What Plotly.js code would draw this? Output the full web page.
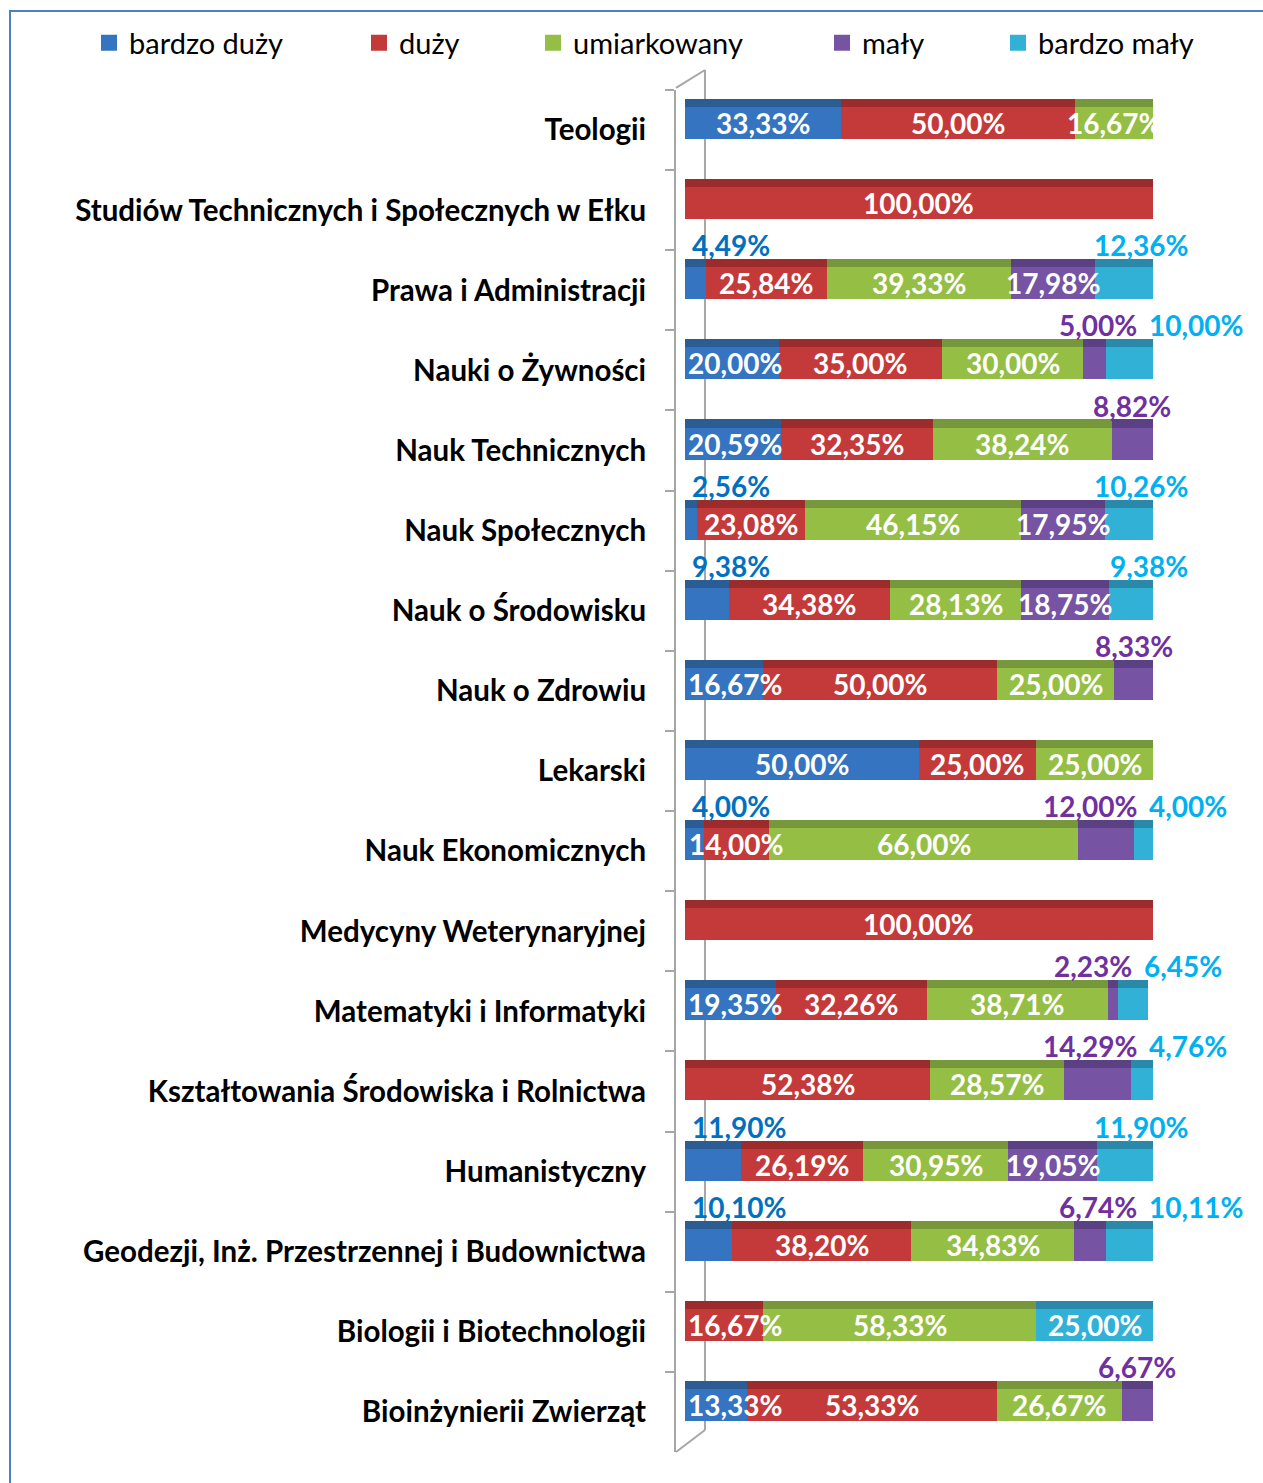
<!DOCTYPE html>
<html>
<head>
<meta charset="utf-8">
<script src="https://cdn.plot.ly/plotly-3.0.1.min.js"></script>
<style>
  html, body { margin: 0; padding: 0; background: #fff; }
  #chart { width: 1263px; height: 1483px; }
  #frame { position: absolute; left: 9px; top: 10px; width: 1400px; height: 1600px;
           border-top: 2px solid #4F81BD; border-left: 2px solid #4F81BD; pointer-events: none; }
</style>
</head>
<body>
<div id="chart"></div>
<div id="frame"></div>
<script>
// ---- data ----
const categories = [
  "Teologii",
  "Studiów Technicznych i Społecznych w Ełku",
  "Prawa i Administracji",
  "Nauki o Żywności",
  "Nauk Technicznych",
  "Nauk Społecznych",
  "Nauk o Środowisku",
  "Nauk o Zdrowiu",
  "Lekarski",
  "Nauk Ekonomicznych",
  "Medycyny Weterynaryjnej",
  "Matematyki i Informatyki",
  "Kształtowania Środowiska i Rolnictwa",
  "Humanistyczny",
  "Geodezji, Inż. Przestrzennej i Budownictwa",
  "Biologii i Biotechnologii",
  "Bioinżynierii Zwierząt"
];
const seriesNames = ["bardzo duży", "duży", "umiarkowany", "mały", "bardzo mały"];
const bardzoDuzy  = [33.33, 0, 4.49, 20.00, 20.59, 2.56, 9.38, 16.67, 50.00, 4.00, 0, 19.35, 0, 11.90, 10.10, 0, 13.33];
const duzy        = [50.00, 100.00, 25.84, 35.00, 32.35, 23.08, 34.38, 50.00, 25.00, 14.00, 100.00, 32.26, 52.38, 26.19, 38.20, 16.67, 53.33];
const umiarkowany = [16.67, 0, 39.33, 30.00, 38.24, 46.15, 28.13, 25.00, 25.00, 66.00, 0, 38.71, 28.57, 30.95, 34.83, 58.33, 26.67];
const maly        = [0, 0, 17.98, 5.00, 8.82, 17.95, 18.75, 8.33, 0, 12.00, 0, 2.23, 14.29, 19.05, 6.74, 0, 6.67];
const bardzoMaly  = [0, 0, 12.36, 10.00, 0, 10.26, 9.38, 0, 0, 4.00, 0, 6.45, 4.76, 11.90, 10.11, 25.00, 0];
const seriesValues = [bardzoDuzy, duzy, umiarkowany, maly, bardzoMaly];

// ---- styles ----
const frontColors = ["#3574C0", "#C43A3A", "#95BE45", "#7653A3", "#32B1D6"];
const topColors   = ["#2C5C94", "#9C2C2C", "#77983A", "#5B4083", "#2A89A8"];
const labelColors = ["#0070C0", "#C00000", "#76923C", "#7030A0", "#00B0F0"];
const insideLimit = [12.5, 12.5, 12.5, 15, 20];
const FONT = "Lato, 'Open Sans', sans-serif";
const LABEL_SIZE = 28;
const fmt = v => v.toFixed(2).replace(".", ",") + "%";
const isOutside = (s, v) => v > 0 && v < insideLimit[s];
const r2 = v => Math.round(v * 100) / 100;

const traces = [];
const legendIds = ["legend", "legend2", "legend3", "legend4", "legend5"];
seriesValues.forEach((vals, s) => {
  // top face (3D look)
  traces.push({
    type: "bar", orientation: "h", x: vals, y: categories, yaxis: "y2",
    width: 0.1, offset: -0.3875,
    marker: { color: topColors[s], line: { width: 0 } },
    showlegend: false, hoverinfo: "skip"
  });
});
seriesValues.forEach((vals, s) => {
  traces.push({
    type: "bar", orientation: "h", name: seriesNames[s],
    x: vals, y: categories,
    width: 0.4, offset: -0.2875,
    marker: { color: frontColors[s], line: { width: 0 } },
    showlegend: false, hoverinfo: "skip"
  });
});
// legend entries (square keys)
seriesNames.forEach((name, s) => {
  traces.push({
    type: "scatter", mode: "markers", name: name, legend: legendIds[s],
    x: [null], y: [null],
    marker: { symbol: "square", size: 16, color: frontColors[s] },
    showlegend: true, hoverinfo: "skip"
  });
});

// value labels
const annotations = [];
categories.forEach((cat, i) => {
  const rowTotal = Math.min(100, r2(seriesValues.reduce((t, vals) => t + vals[i], 0)));
  const cyanOut = isOutside(4, bardzoMaly[i]);
  let cum = 0;
  seriesValues.forEach((vals, s) => {
    const v = vals[i];
    if (v > 0) {
      const a = {
        y: cat, yref: "y", xref: "x", text: fmt(v), showarrow: false,
        yanchor: "middle"
      };
      if (isOutside(s, v)) {
        a.yshift = 45;
        a.font = { family: FONT, size: LABEL_SIZE, color: labelColors[s], weight: 700 };
        if (s === 0) { a.x = 0; a.xanchor = "left"; a.xshift = 5; }
        else if (s === 4) {
          a.x = rowTotal;
          if (isOutside(3, maly[i])) { a.xanchor = "left"; a.xshift = -6; }
          else { a.xanchor = "right"; a.xshift = 37; }
        } else if (s === 3 && cyanOut) {
          a.x = rowTotal; a.xanchor = "right"; a.xshift = -14;
        } else { a.x = Math.min(100, r2(cum + v / 2)); a.xanchor = "center"; }
      } else {
        a.yshift = 7;
        a.font = { family: FONT, size: LABEL_SIZE, color: "#FFFFFF", weight: 700 };
        if (cum === 0 && v < 22) { a.x = 0; a.xanchor = "left"; a.xshift = 1; }
        else { a.x = Math.min(100, r2(cum + v / 2)); a.xanchor = "center"; }
      }
      annotations.push(a);
    }
    cum = r2(cum + v);
  });
});

// 3D wall decoration
const wallColor = "#A6A6A6";
const shapes = [
  { type: "line", layer: "below", xref: "x", yref: "paper", x0: 4.27, x1: 4.27, y0: 22 / 1362, y1: 1 + 20 / 1362, line: { color: wallColor, width: 2 } },
  { type: "line", layer: "below", xref: "paper", yref: "paper", x0: 0, x1: 29 / 477, y0: 1.0015, y1: 1 + 20 / 1362, line: { color: wallColor, width: 2 } },
  { type: "line", layer: "below", xref: "paper", yref: "paper", x0: 0, x1: 29 / 477, y0: 0, y1: 22 / 1362, line: { color: wallColor, width: 2 } }
];

const legendBase = {
  orientation: "h", xref: "container", yref: "container", xanchor: "left", yanchor: "middle",
  y: 1 - 43 / 1483, bgcolor: "rgba(0,0,0,0)", borderwidth: 0, itemsizing: "trace",
  font: { family: FONT, size: 29, color: "#000000" }
};
const legendX = [89, 359, 533, 822, 998];

const catAxis = {
  type: "category", range: [16.5, -0.5], showgrid: false, zeroline: false,
  ticks: "outside", tickson: "boundaries", ticklen: 9, tickcolor: wallColor, tickwidth: 2,
  showline: true, linecolor: wallColor, linewidth: 2,
  ticklabelstandoff: 22,
  tickfont: { family: FONT, size: 29.5, color: "#000000", weight: 700 },
  fixedrange: true
};

const layout = {
  width: 1263, height: 1483,
  margin: { l: 676, r: 110, t: 90, b: 31 },
  paper_bgcolor: "#FFFFFF", plot_bgcolor: "rgba(0,0,0,0)",
  barmode: "stack", bargap: 0,
  showlegend: true,
  xaxis: { range: [-1.92, 100], visible: false, fixedrange: true },
  yaxis: catAxis,
  yaxis2: { type: "category", range: [16.5, -0.5], overlaying: "y", visible: false, fixedrange: true },
  annotations: annotations,
  shapes: shapes
};
legendIds.forEach((id, k) => { layout[id] = Object.assign({}, legendBase, { x: legendX[k] / 1263 }); });

Plotly.newPlot("chart", traces, layout, { staticPlot: true });
</script>
</body>
</html>
